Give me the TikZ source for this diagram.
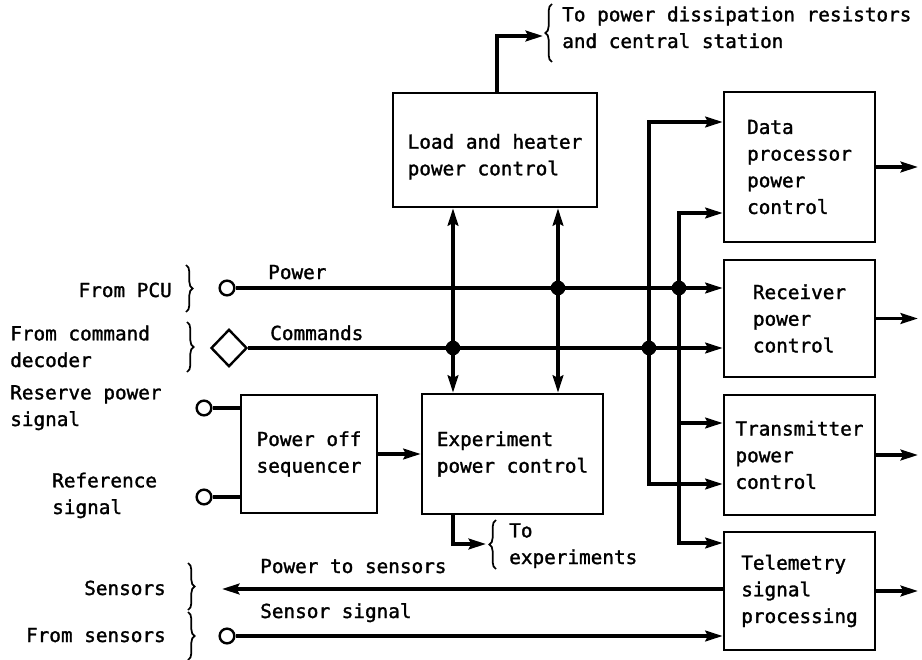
\documentclass[tikz,border=0pt]{standalone}
\usepackage{fontspec}
\setmonofont{DejaVu Sans Mono}[FakeBold=1.5]
\usetikzlibrary{arrows.meta,decorations.pathreplacing,shapes.geometric}
\begin{document}
\begin{tikzpicture}[x=0.75pt,y=-0.75pt,
  every node/.style={font=\ttfamily\fontsize{14.5pt}{20pt}\selectfont, inner sep=0pt},
  box/.style={draw, line width=2pt, align=left},
  wire/.style={line width=2.6pt},
  tip/.style={-{Stealth[length=13pt,width=8pt,inset=2pt]}},
  tipboth/.style={{Stealth[length=13pt,width=8pt,inset=2pt]}-{Stealth[length=13pt,width=8pt,inset=2pt]}},
  term/.style={circle, draw, line width=1.8pt, fill=white, minimum size=11pt},
  dia/.style={diamond, draw, line width=1.8pt, fill=white, minimum width=27pt, minimum height=28pt},
  dot/.style={circle, fill, minimum size=11pt},
  brace/.style={decorate, decoration={brace, amplitude=5pt}, line width=1.3pt},
  lbl/.style={anchor=base west, align=left},
  lblr/.style={anchor=base east, align=right}
]
\useasboundingbox (0,0) rectangle (922,660);

% boxes
\node[box, minimum width=153pt, minimum height=85.5pt,
  label={[align=left, yshift=-5pt]center:Load and heater\\power control}] (load) at (495,150) {};
\node[box, minimum width=113.25pt, minimum height=112.5pt] (data) at (799.5,167) {Data\\processor\\power\\control};
\node[box, minimum width=113.25pt, minimum height=87.75pt] (recv) at (799.5,318.5) {Receiver\\power\\control};
\node[box, minimum width=113.25pt, minimum height=90pt] (trans) at (799.5,455) {Transmitter\\power\\control};
\node[box, minimum width=113.25pt, minimum height=88.5pt] (telem) at (799.5,591) {Telemetry\\signal\\processing};
\node[box, minimum width=102pt, minimum height=88.5pt, align=center] (seq) at (309,454) {Power off\\sequencer};
\node[box, minimum width=135.75pt, minimum height=90pt] (exp) at (512.5,454) {Experiment\\power control};

% helper coordinates
\coordinate (v1) at (453,0);
\coordinate (v2) at (558,0);
\coordinate (va1) at (649,122);
\coordinate (va2) at (649,484);
\coordinate (vb1) at (679,213);
\coordinate (vb2) at (679,423);
\coordinate (vb3) at (679,543);
\coordinate (rout) at (918,0);
\coordinate (lo) at (497,36);
\coordinate (loe) at (543,36);
\coordinate (eo) at (453,544);
\coordinate (eoe) at (486,544);
\coordinate (senout) at (222,589);

% terminals
\draw[wire,tip] (senout -| telem.west) -- (senout);
\node[term] (senin) at (227,636) {};
\draw[wire,tip] (senin) -- (senin -| telem.west);

\node[term] (pwrin) at (227,288) {};
\node[dia] (cmdin) at (229,348) {};
\node[term] (resin) at (204,408) {};
\node[term] (refin) at (204,497) {};

% wires
\draw[wire,tip] (pwrin) -- (pwrin -| recv.west);
\draw[wire,tip] (cmdin) -- (cmdin -| recv.west);
\draw[wire] (resin) -- (resin -| seq.west);
\draw[wire] (refin) -- (refin -| seq.west);
\draw[wire,tip] (seq) -- (exp);
\draw[wire,tipboth] (v1 |- load.south) -- (v1 |- exp.north);
\draw[wire,tipboth] (v2 |- load.south) -- (v2 |- exp.north);
\draw[wire,tipboth,line join=miter] (va1 -| data.west) -- (va1) -- (va2) -- (va2 -| trans.west);
\draw[wire,tipboth,line join=miter] (vb1 -| data.west) -- (vb1) -- (vb3) -- (vb3 -| telem.west);
\draw[wire,tip] (vb2) -- (vb2 -| trans.west);
\node[dot] at (v1 |- cmdin) {};
\node[dot] at (v2 |- pwrin) {};
\node[dot] at (va1 |- cmdin) {};
\node[dot] at (vb1 |- pwrin) {};

% outputs
\draw[wire,tip] (data.east) -- (data.east -| rout);
\draw[wire,tip] (recv.east) -- (recv.east -| rout);
\draw[wire,tip] (trans.east) -- (trans.east -| rout);
\draw[wire,tip] (telem.east) -- (telem.east -| rout);
\draw[wire,tip,line join=miter] (lo |- load.north) -- (lo) -- (loe);
\draw[wire,tip,line join=miter] (eo |- exp.south) -- (eo) -- (eoe);

% braces
\draw[brace] (186,265) -- (186,312);
\draw[brace] (187,322) -- (187,372);
\draw[brace] (188,563) -- (188,610);
\draw[brace] (188,612) -- (188,660);
\draw[brace] (552,62) -- (552,4);
\draw[brace] (496,569) -- (496,520);

% labels
\node[lblr] (tpcu) at (172,297) {From PCU};
\node[lbl] (tcmd) at (10,367) {From command\\decoder};
\node[lbl] (tres) at (10,426) {Reserve power\\signal};
\node[lbl] (tref) at (52,514) {Reference\\signal};
\node[lblr] (tsen) at (166,595) {Sensors};
\node[lblr] (tfsen) at (166,642) {From sensors};
\node[lbl] (tpow) at (268,279) {Power};
\node[lbl] (tcom) at (270,340) {Commands};
\node[lbl] (tpts) at (260,573) {Power to sensors};
\node[lbl] (tss) at (260,618) {Sensor signal};
\node[lbl] (tdis) at (562,48) {To power dissipation resistors\\and central station};
\node[lbl] (texp) at (509,564) {To\\experiments};
\end{tikzpicture}
\end{document}
